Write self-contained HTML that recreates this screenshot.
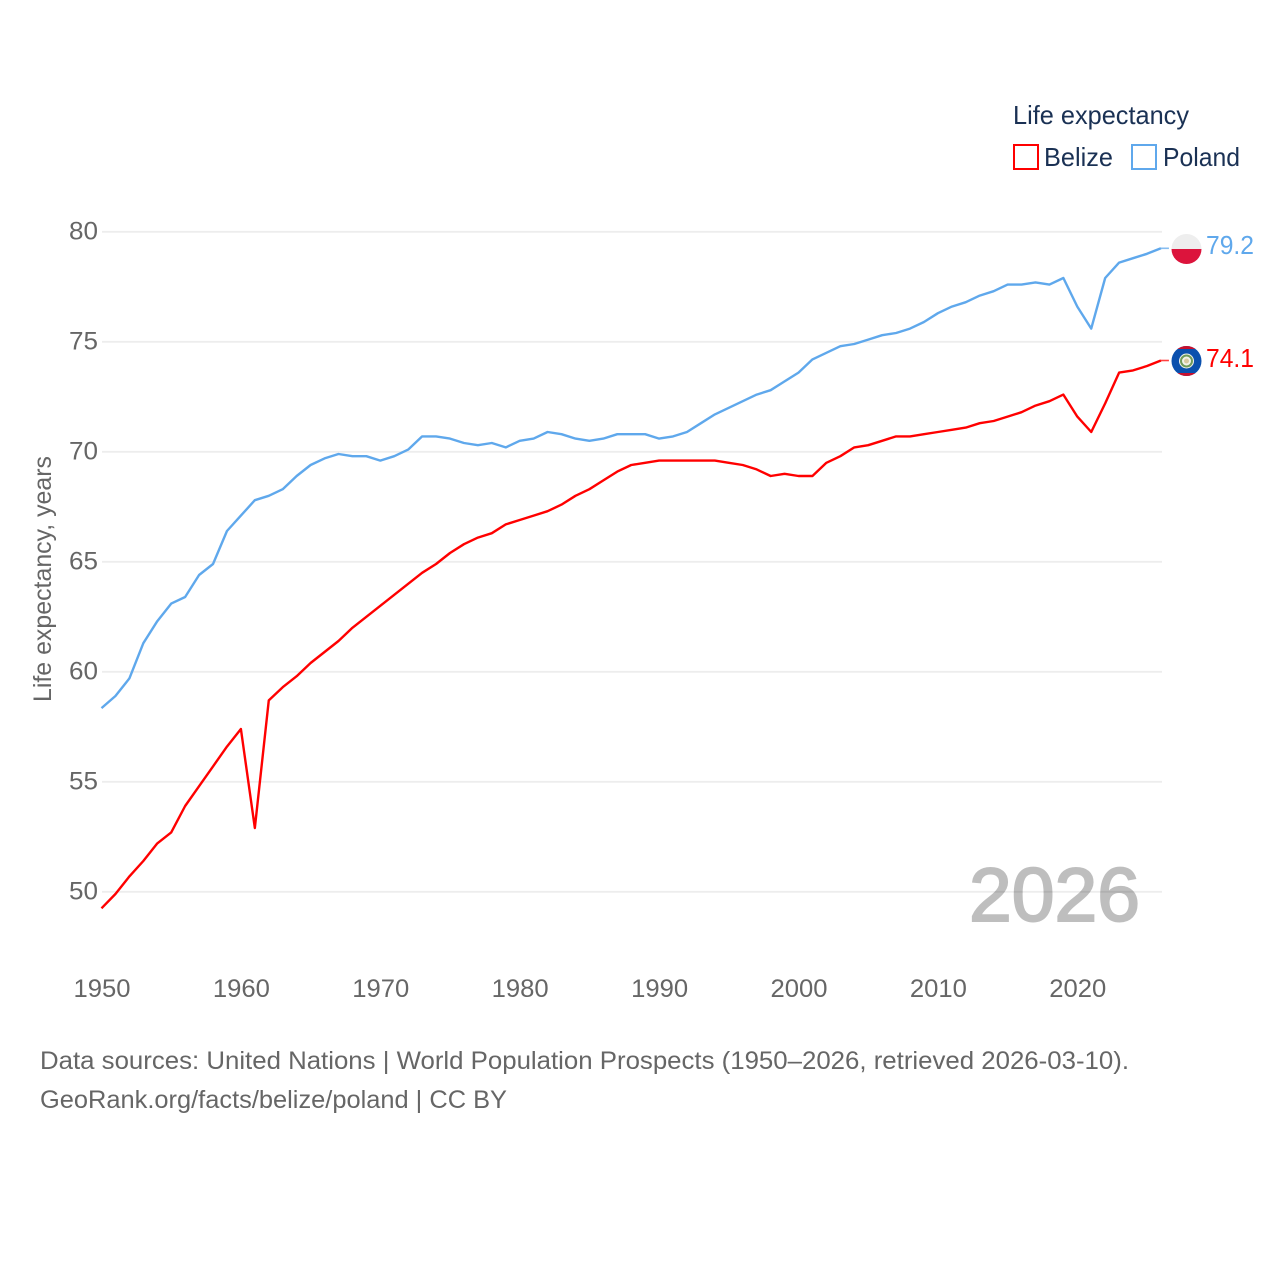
<!DOCTYPE html>
<html lang="en">
<head>
<meta charset="utf-8">
<title>Life expectancy: Belize and Poland</title>
<style>
html,body{margin:0;padding:0;background:#fff;width:1280px;height:1280px;overflow:hidden}
svg{display:block}
text{font-family:"Liberation Sans",sans-serif}
</style>
</head>
<body>
<svg id="chart" xmlns="http://www.w3.org/2000/svg" width="1280" height="1280" viewBox="0 0 1280 1280">
  <rect width="1280" height="1280" fill="#fff"/>
  <g id="grid"></g>
  <g id="yticks"></g>
  <g id="xticks"></g>
  <text transform="translate(51,702) rotate(-90)" font-size="25" fill="#666" textLength="246" lengthAdjust="spacingAndGlyphs">Life expectancy, years</text>
  <text x="969" y="921" font-size="76" fill="#000" stroke="#000" stroke-width="2" opacity="0.25" textLength="171" lengthAdjust="spacingAndGlyphs">2026</text>
  <g id="series"></g>

  <g>
    <text x="1013" y="124" font-size="26" fill="#1a3154" textLength="176" lengthAdjust="spacingAndGlyphs">Life expectancy</text>
    <rect x="1014" y="145" width="24" height="24" fill="none" stroke="#ff0000" stroke-width="2"/>
    <text x="1044" y="166" font-size="26" fill="#1a3154" textLength="69" lengthAdjust="spacingAndGlyphs">Belize</text>
    <rect x="1132" y="145" width="24" height="24" fill="none" stroke="#5fa8ec" stroke-width="2"/>
    <text x="1163" y="166" font-size="26" fill="#1a3154" textLength="77" lengthAdjust="spacingAndGlyphs">Poland</text>
  </g>

  <defs>
    <clipPath id="poland-clip"><circle cx="1186.5" cy="249" r="15"/></clipPath>
    <clipPath id="belize-clip"><circle cx="1186.5" cy="361" r="15"/></clipPath>
  </defs>
  <g clip-path="url(#poland-clip)">
    <rect x="1171" y="234" width="31" height="15" fill="#eeeeee"/>
    <rect x="1171" y="249" width="31" height="15" fill="#dc143c"/>
  </g>
  <g clip-path="url(#belize-clip)">
    <rect x="1171" y="346" width="31" height="31" fill="#0a50ae"/>
    <rect x="1171" y="346" width="31" height="3" fill="#c8102e"/>
    <rect x="1171" y="373" width="31" height="3" fill="#c8102e"/>
    <circle cx="1186.5" cy="361" r="7.5" fill="#f2f2ea"/>
    <circle cx="1186.5" cy="361" r="5.5" fill="none" stroke="#6f9a5a" stroke-width="2"/>
    <circle cx="1186.5" cy="361" r="2.5" fill="#d9c9a0"/>
  </g>
  <text x="1206" y="254" font-size="26" fill="#5fa8ec" textLength="48" lengthAdjust="spacingAndGlyphs">79.2</text>
  <text x="1206" y="367" font-size="26" fill="#ff0000" textLength="48" lengthAdjust="spacingAndGlyphs">74.1</text>

  <text x="40" y="1069" font-size="25" fill="#666" textLength="1089" lengthAdjust="spacingAndGlyphs">Data sources: United Nations | World Population Prospects (1950–2026, retrieved 2026-03-10).</text>
  <text x="40" y="1108" font-size="25" fill="#666" textLength="467" lengthAdjust="spacingAndGlyphs">GeoRank.org/facts/belize/poland | CC BY</text>
</svg>
<script>
const years = [1950,1951,1952,1953,1954,1955,1956,1957,1958,1959,1960,1961,1962,1963,1964,1965,1966,1967,1968,1969,1970,1971,1972,1973,1974,1975,1976,1977,1978,1979,1980,1981,1982,1983,1984,1985,1986,1987,1988,1989,1990,1991,1992,1993,1994,1995,1996,1997,1998,1999,2000,2001,2002,2003,2004,2005,2006,2007,2008,2009,2010,2011,2012,2013,2014,2015,2016,2017,2018,2019,2020,2021,2022,2023,2024,2025,2026];
const poland = [58.35,58.9,59.7,61.3,62.3,63.1,63.4,64.4,64.9,66.4,67.1,67.8,68.0,68.3,68.9,69.4,69.7,69.9,69.8,69.8,69.6,69.8,70.1,70.7,70.7,70.6,70.4,70.3,70.4,70.2,70.5,70.6,70.9,70.8,70.6,70.5,70.6,70.8,70.8,70.8,70.6,70.7,70.9,71.3,71.7,72.0,72.3,72.6,72.8,73.2,73.6,74.2,74.5,74.8,74.9,75.1,75.3,75.4,75.6,75.9,76.3,76.6,76.8,77.1,77.3,77.6,77.6,77.7,77.6,77.9,76.6,75.6,77.9,78.6,78.8,79.0,79.25];
const belize = [49.25,49.9,50.7,51.4,52.2,52.7,53.9,54.8,55.7,56.6,57.4,52.9,58.7,59.3,59.8,60.4,60.9,61.4,62.0,62.5,63.0,63.5,64.0,64.5,64.9,65.4,65.8,66.1,66.3,66.7,66.9,67.1,67.3,67.6,68.0,68.3,68.7,69.1,69.4,69.5,69.6,69.6,69.6,69.6,69.6,69.5,69.4,69.2,68.9,69.0,68.9,68.9,69.5,69.8,70.2,70.3,70.5,70.7,70.7,70.8,70.9,71.0,71.1,71.3,71.4,71.6,71.8,72.1,72.3,72.6,71.6,70.9,72.2,73.6,73.7,73.9,74.15];
const yTicks = [50,55,60,65,70,75,80];
const xTicks = [1950,1960,1970,1980,1990,2000,2010,2020];

const NS = 'http://www.w3.org/2000/svg';
function xScale(year) { return 101.5 + (year - 1950) * 13.94; }
function yScale(value) { return 231.8 + (80 - value) * 22; }
function make(tag, attrs, parent) {
  const el = document.createElementNS(NS, tag);
  for (const k in attrs) el.setAttribute(k, attrs[k]);
  parent.appendChild(el);
  return el;
}

const grid = document.getElementById('grid');
const yG = document.getElementById('yticks');
yTicks.forEach(function (t) {
  const line = make('line', {x1: 102, x2: 1162, y1: yScale(t), y2: yScale(t), stroke: '#ededed', 'stroke-width': 1.8}, grid);
  
  
  const label = make('text', {x: 98, y: yScale(t) + 7.7, 'text-anchor': 'end', 'font-size': 25, fill: '#666', textLength: 29, lengthAdjust: 'spacingAndGlyphs'}, yG);
  label.textContent = t;
  
  
});

const xG = document.getElementById('xticks');
xTicks.forEach(function (t) {
  const label = make('text', {x: xScale(t) + 0.5, y: 997, 'text-anchor': 'middle', 'font-size': 25, fill: '#666', textLength: 57, lengthAdjust: 'spacingAndGlyphs'}, xG);
  label.textContent = t;
  
  
});

const seriesG = document.getElementById('series');
function drawSeries(values, color, name) {
  const d = values.map(function (v, i) {
    return (i ? 'L' : 'M') + xScale(years[i]).toFixed(2) + ' ' + yScale(v).toFixed(2);
  }).join(' ');
  const path = make('path', {d: d, fill: 'none', stroke: color, 'stroke-width': 2.4, 'stroke-linejoin': 'round'}, seriesG);
  
  
  const lastX = xScale(years[years.length - 1]);
  const lastY = yScale(values[values.length - 1]);
  const tail = make('line', {x1: lastX, x2: lastX + 8, y1: lastY, y2: lastY, stroke: color, 'stroke-width': 1.6, opacity: 0.75}, seriesG);
  
  
}
drawSeries(poland, '#5fa8ec', 'poland');
drawSeries(belize, '#ff0000', 'belize');
</script>
</body>
</html>
